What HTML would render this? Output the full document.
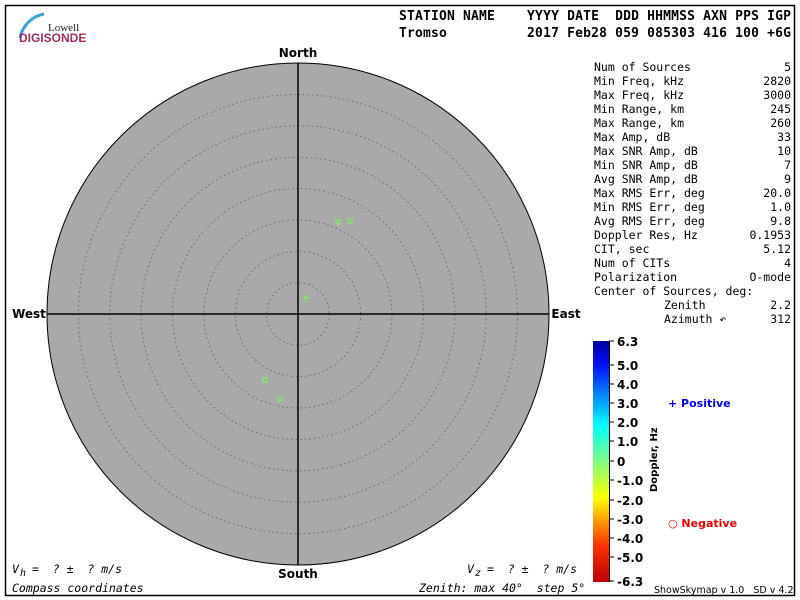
<!DOCTYPE html>
<html><head><meta charset="utf-8"><style>
body{margin:0;background:#fff;width:800px;height:600px;overflow:hidden}
svg{display:block}
.m{font-family:"DejaVu Sans Mono","Liberation Mono",monospace;font-size:11.5px}
.b{font-family:"DejaVu Sans","Liberation Sans",sans-serif;font-weight:bold}
</style></head><body>
<svg width="800" height="600" xmlns="http://www.w3.org/2000/svg">
<rect x="5.5" y="5.5" width="789" height="590" fill="none" stroke="#000" stroke-width="1.5"/>
<path d="M20 38 A30 30 0 0 1 44 14" fill="none" stroke="#3aa3cf" stroke-width="3"/>
<text x="48" y="31" font-family="Liberation Serif,serif" font-size="11" fill="#222">Lowell</text>
<text x="19" y="42" font-family="Liberation Sans,sans-serif" font-size="12" font-weight="bold" fill="#9b2d5f">DIGISONDE</text>
<text class="b" x="399" y="20" font-size="13" textLength="392" style="font-family:'DejaVu Sans Mono',monospace" xml:space="preserve">STATION NAME    YYYY DATE  DDD HHMMSS AXN PPS IGP</text>
<text class="b" x="399" y="37" font-size="13" textLength="392" style="font-family:'DejaVu Sans Mono',monospace" xml:space="preserve">Tromso          2017 Feb28 059 085303 416 100 +6G</text>
<circle cx="298" cy="314" r="251" fill="#a9a9a9" stroke="#000" stroke-width="1"/>
<g fill="none" stroke="#666" stroke-width="1" stroke-dasharray="1.5,3">
<circle cx="298" cy="314" r="31.3"/><circle cx="298" cy="314" r="62.7"/><circle cx="298" cy="314" r="94"/><circle cx="298" cy="314" r="125.5"/><circle cx="298" cy="314" r="156.8"/><circle cx="298" cy="314" r="188.2"/><circle cx="298" cy="314" r="219.6"/>
</g>
<line x1="298" y1="63" x2="298" y2="565" stroke="#000" stroke-width="1.5"/>
<line x1="47" y1="314" x2="549" y2="314" stroke="#000" stroke-width="1.5"/>
<g fill="none" stroke="#80f060" stroke-width="1.2">
<rect x="336" y="220" width="4" height="4"/><rect x="348" y="219" width="4" height="4"/><rect x="263" y="378" width="4" height="4"/><rect x="278" y="397" width="4" height="4"/>
<path d="M306 294v8M302 298h8"/>
</g>
<g class="b" font-size="12" text-anchor="middle">
<text x="298" y="57">North</text><text x="298" y="578">South</text><text x="29" y="318">West</text><text x="566" y="318">East</text>
</g>
<g class="m">
<text x="594" y="71">Num of Sources</text><text x="594" y="85">Min Freq, kHz</text><text x="594" y="99">Max Freq, kHz</text><text x="594" y="113">Min Range, km</text><text x="594" y="127">Max Range, km</text><text x="594" y="141">Max Amp, dB</text><text x="594" y="155">Max SNR Amp, dB</text><text x="594" y="169">Min SNR Amp, dB</text><text x="594" y="183">Avg SNR Amp, dB</text><text x="594" y="197">Max RMS Err, deg</text><text x="594" y="211">Min RMS Err, deg</text><text x="594" y="225">Avg RMS Err, deg</text><text x="594" y="239">Doppler Res, Hz</text><text x="594" y="253">CIT, sec</text><text x="594" y="267">Num of CITs</text><text x="594" y="281">Polarization</text><text x="594" y="295">Center of Sources, deg:</text><text x="664" y="309">Zenith</text><text x="664" y="323">Azimuth ↶</text>
<g text-anchor="end"><text x="791" y="71">5</text><text x="791" y="85">2820</text><text x="791" y="99">3000</text><text x="791" y="113">245</text><text x="791" y="127">260</text><text x="791" y="141">33</text><text x="791" y="155">10</text><text x="791" y="169">7</text><text x="791" y="183">9</text><text x="791" y="197">20.0</text><text x="791" y="211">1.0</text><text x="791" y="225">9.8</text><text x="791" y="239">0.1953</text><text x="791" y="253">5.12</text><text x="791" y="267">4</text><text x="791" y="281">O-mode</text><text x="791" y="309">2.2</text><text x="791" y="323">312</text></g>
<text x="12" y="573" font-style="italic">V</text><text x="20" y="576" font-size="10" font-style="italic">h</text>
<text x="32" y="573" font-style="italic" xml:space="preserve">=  ? ±  ? m/s</text>
<text x="467" y="573" font-style="italic">V</text><text x="475" y="576" font-size="10" font-style="italic">z</text>
<text x="487" y="573" font-style="italic" xml:space="preserve">=  ? ±  ? m/s</text>
<text x="12" y="592" font-style="italic">Compass coordinates</text>
<text x="419" y="592" font-style="italic" xml:space="preserve">Zenith: max 40°  step 5°</text>
</g>
<defs><linearGradient id="g" x1="0" y1="0" x2="0" y2="1">
<stop offset="0" stop-color="#0000a0"/><stop offset="0.1" stop-color="#0010ff"/><stop offset="0.35" stop-color="#00ffff"/><stop offset="0.5" stop-color="#80ff80"/><stop offset="0.65" stop-color="#ffff00"/><stop offset="0.85" stop-color="#ff3000"/><stop offset="1" stop-color="#c00000"/>
</linearGradient></defs>
<rect x="593" y="341" width="16" height="241" fill="url(#g)"/>
<line x1="609.5" y1="341" x2="609.5" y2="582" stroke="#000"/>
<g stroke="#000"><path d="M609 341h5M609 365h5M609 384h5M609 403h5M609 422h5M609 441h5M609 461h5M609 480h5M609 500h5M609 519h5M609 538h5M609 557h5M609 581h5"/></g>
<g class="b" font-size="12">
<text x="617" y="346">6.3</text><text x="617" y="370">5.0</text><text x="617" y="389">4.0</text><text x="617" y="408">3.0</text><text x="617" y="427">2.0</text><text x="617" y="446">1.0</text><text x="617" y="466">0</text><text x="617" y="485">-1.0</text><text x="617" y="505">-2.0</text><text x="617" y="524">-3.0</text><text x="617" y="543">-4.0</text><text x="617" y="562">-5.0</text><text x="617" y="586">-6.3</text>
<text transform="translate(657,492) rotate(-90)" font-size="10">Doppler, Hz</text>
<text x="668" y="407" fill="#0000e0" font-size="11">+ Positive</text>
<text x="668" y="527" fill="#e00000" font-size="11">○ Negative</text>
</g>
<text x="654" y="593" font-family="DejaVu Sans,sans-serif" font-size="9.5" xml:space="preserve">ShowSkymap v 1.0   SD v 4.2</text>
</svg>
</body></html>
